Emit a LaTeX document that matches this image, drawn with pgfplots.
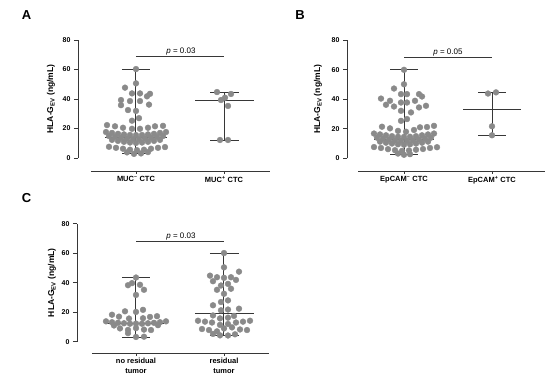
\documentclass[border=0pt]{standalone}
\usepackage{pgfplots}
\pgfplotsset{compat=1.18}
\usepackage{fontspec}
\setmainfont{Liberation Sans}
\definecolor{dotc}{RGB}{138,138,138}
\definecolor{linec}{RGB}{55,55,55}
\pgfplotsset{
  panel/.style={
    scale only axis, height=118pt, ymin=0, ymax=80,
    axis y line=left, axis x line=none,
    y axis line style={-, line width=0.9pt, color=linec},
    ytick={0,20,40,60,80}, tick align=outside, major tick length=4pt,
    every tick/.style={line width=0.9pt, color=linec},
    tick label style={font=\fontsize{7}{8}\selectfont\bfseries},
    /pgf/number format/assume math mode=true,
    clip=false,
    every axis y label/.style={at={(rel axis cs:0,0.5)}, xshift=#1, rotate=90, anchor=center},
    ylabel={\fontsize{8.5}{10}\selectfont\bfseries HLA-G\textsubscript{EV} (ng/mL)},
  },
  dots/.style={only marks, mark=*, mark size=2.9pt, mark options={draw=dotc, fill=dotc}},
  stat/.style={color=linec, line width=1pt, no marks},
}
\newcommand{\lab}{\fontsize{7.5}{10}\selectfont\bfseries}
\newcommand{\pv}{\fontsize{8}{9}\selectfont}
\begin{document}
\begin{tikzpicture}
\path[use as bounding box] (0,0) rectangle (550pt,388pt);
\node[font=\fontsize{13}{14}\selectfont\bfseries] at (26.5pt,372.5pt) {A};
\node[font=\fontsize{13}{14}\selectfont\bfseries] at (300pt,372.5pt) {B};
\node[font=\fontsize{13}{14}\selectfont\bfseries] at (26.5pt,190pt) {C};

% ---------------- Panel A
\begin{axis}[panel=-27pt, width=192pt, xmin=78, xmax=270, at={(78pt,230pt)}, anchor=south west]
\addplot[dots] coordinates {
(136,60.3)(136,50.6)(125,47.7)(132,43.8)(140,43.8)(150,43.5)(147,41.8)(121,39.3)(130,38.6)(140,38.6)(121,35.8)(149,36.2)(128,32.5)(136,31.9)(132,25.3)(139,27.0)
(107,22.3)(115,21.5)(123,20.5)(132,19.8)(140,19.8)(148,20.5)(155,21.5)(163,21.8)
(106,17.6)(112,17.0)(118,16.4)(124,16.0)(130,15.6)(136,15.5)(142,15.6)(148,16.0)(154,16.4)(160,17.0)(166,17.6)
(109,14.9)(115,14.3)(121,13.7)(127,13.2)(133,12.9)(139,12.9)(145,13.2)(151,13.7)(157,14.3)(163,14.9)
(112,12.3)(118,11.6)(124,11.0)(130,10.5)(136,10.2)(142,10.5)(148,11.0)(154,11.6)(160,12.3)
(109,7.6)(116,6.9)(123,6.3)(130,5.6)(137,5.3)(144,5.6)(151,6.3)(158,6.9)(165,7.4)
(127,3.8)(134,2.8)(141,3.1)(148,4.0)
};
\addplot[dots] coordinates {(217,44.7)(231,43.4)(221,39.3)(225,40.9)(228,35.3)(220,12.2)(228,12.2)};
\addplot[stat] coordinates {(136,2.8)(136,60.3)};
\addplot[stat] coordinates {(122,60.3)(150,60.3)};
\addplot[stat] coordinates {(122,2.8)(150,2.8)};
\addplot[stat] coordinates {(105,13.8)(167,13.8)};
\addplot[stat] coordinates {(224,12.2)(224,44.7)};
\addplot[stat] coordinates {(210,44.7)(239,44.7)};
\addplot[stat] coordinates {(210,12.2)(239,12.2)};
\addplot[stat] coordinates {(195,39.3)(254,39.3)};
\draw[linec, line width=0.9pt] (axis cs:91,-8.8) -- (axis cs:270,-8.8);
\draw[linec, line width=0.9pt] (axis cs:136,-8.8) -- ++(0pt,-3pt);
\draw[linec, line width=0.9pt] (axis cs:224,-8.8) -- ++(0pt,-3pt);
\node[below=5pt, inner sep=0pt, font=\lab] at (axis cs:136,-8.8) {MUC\textsuperscript{\textendash} CTC};
\node[below=5pt, inner sep=0pt, font=\lab] at (axis cs:224,-8.8) {MUC\textsuperscript{+} CTC};
\draw[linec, line width=0.9pt] (axis cs:136,68.7) -- (axis cs:224,68.7);
\node[above=1pt, inner sep=0pt, font=\pv] at (axis cs:181,68.7) {\textit{p} = 0.03};
\end{axis}

% ---------------- Panel B
\begin{axis}[panel=-29pt, width=198pt, xmin=347, xmax=545, at={(347pt,229.7pt)}, anchor=south west]
\addplot[dots] coordinates {
(404,60.0)(404,50.2)(394,47.3)(381,40.5)(390,39.0)(386,36.3)(394,35.1)(401,43.5)(407,43.5)(419,43.5)(422,41.9)(401,37.8)(407,37.8)(415,39.0)(419,34.5)(426,35.6)(401,32.2)(411,31.1)(401,25.4)(407,26.6)
(382,21.4)(390,20.3)(398,18.6)(406,18.0)(414,19.2)(420,21.0)(427,21.2)(434,22.0)
(374,16.8)(380,16.2)(386,15.6)(392,15.0)(398,14.6)(404,14.5)(410,14.6)(416,15.0)(422,15.6)(428,16.2)(434,16.8)
(377,14.0)(383,13.3)(389,12.7)(395,12.2)(401,11.9)(407,11.9)(413,12.2)(419,12.7)(425,13.3)(431,14.0)
(380,11.3)(386,10.6)(392,10.0)(398,9.5)(404,9.2)(410,9.5)(416,10.0)(422,10.6)(428,11.3)
(374,7.6)(381,7.0)(388,6.2)(395,5.5)(402,5.0)(409,5.3)(416,5.8)(423,6.3)(430,7.0)(437,7.5)
(398,3.2)(404,2.4)(410,2.8)
};
\addplot[dots] coordinates {(488,43.9)(496,44.7)(492,21.7)(492,15.6)};
\addplot[stat] coordinates {(404,2.4)(404,60.0)};
\addplot[stat] coordinates {(390,60.0)(418,60.0)};
\addplot[stat] coordinates {(390,2.4)(418,2.4)};
\addplot[stat] coordinates {(374,13.0)(434,13.0)};
\addplot[stat] coordinates {(492,15.6)(492,44.7)};
\addplot[stat] coordinates {(478,44.7)(506,44.7)};
\addplot[stat] coordinates {(478,15.6)(506,15.6)};
\addplot[stat] coordinates {(463,32.8)(521,32.8)};
\draw[linec, line width=0.9pt] (axis cs:358,-8.6) -- (axis cs:545,-8.6);
\draw[linec, line width=0.9pt] (axis cs:404,-8.6) -- ++(0pt,-3pt);
\draw[linec, line width=0.9pt] (axis cs:492,-8.6) -- ++(0pt,-3pt);
\node[below=5pt, inner sep=0pt, font=\lab] at (axis cs:404,-8.6) {EpCAM\textsuperscript{\textendash} CTC};
\node[below=5pt, inner sep=0pt, font=\lab] at (axis cs:492,-8.6) {EpCAM\textsuperscript{+} CTC};
\draw[linec, line width=0.9pt] (axis cs:404,68.2) -- (axis cs:492,68.2);
\node[above=1pt, inner sep=0pt, font=\pv] at (axis cs:448,68.2) {\textit{p} = 0.05};
\end{axis}

% ---------------- Panel C
\begin{axis}[panel=-25pt, width=193pt, xmin=77, xmax=270, at={(77pt,46.3pt)}, anchor=south west]
\addplot[dots] coordinates {
(136,43.5)(132,39.7)(128,38.3)(140,38.6)(144,35.2)(136,31.7)
(112,18.3)(119,17.0)(125,20.6)(129,15.7)(136,20.2)(143,21.6)(143,15.9)(150,16.8)(157,17.3)
(106,13.8)(112,13.2)(118,12.8)(124,12.5)(130,12.2)(136,12.3)(142,12.2)(148,12.5)(154,12.8)(160,13.2)(166,13.8)
(114,11.0)(158,11.2)
(120,9.0)(128,8.0)(136,9.2)(144,8.2)(151,7.9)
(128,5.8)(136,3.2)(144,3.4)
};
\addplot[dots] coordinates {
(224,60.1)(224,50.4)(239,47.5)(210,44.8)(217,43.7)(224,43.3)(231,43.7)(236,41.9)(213,41.0)(221,38.1)(228,39.2)(217,35.2)(231,35.9)(224,32.5)(213,24.7)(221,26.9)(228,28.0)(221,21.3)(228,21.8)(239,22.4)
(213,17.8)(234,17.5)
(198,14.2)(205,13.6)(212,13.0)(236,13.0)(243,13.6)(250,14.2)
(220,15.8)(228,16.3)(220,11.4)(228,12.0)
(202,8.6)(209,7.9)(217,7.0)(224,9.0)(232,9.7)(240,8.3)(247,7.9)
(213,5.3)(220,4.3)(228,4.2)(235,5.0)
};
\addplot[stat] coordinates {(136,3.0)(136,43.5)};
\addplot[stat] coordinates {(122,43.5)(150,43.5)};
\addplot[stat] coordinates {(122,3.0)(150,3.0)};
\addplot[stat] coordinates {(107,12.4)(164,12.4)};
\addplot[stat] coordinates {(224,4.2)(224,60.1)};
\addplot[stat] coordinates {(210,60.1)(239,60.1)};
\addplot[stat] coordinates {(210,4.2)(239,4.2)};
\addplot[stat] coordinates {(195,19.1)(254,19.1)};
\draw[linec, line width=0.9pt] (axis cs:92,-7.8) -- (axis cs:269.5,-7.8);
\draw[linec, line width=0.9pt] (axis cs:136,-7.8) -- ++(0pt,-3pt);
\draw[linec, line width=0.9pt] (axis cs:224,-7.8) -- ++(0pt,-3pt);
\node[below=5pt, inner sep=0pt, font=\lab, align=center] at (axis cs:136,-7.8) {no residual\\tumor};
\node[below=5pt, inner sep=0pt, font=\lab, align=center] at (axis cs:224,-7.8) {residual\\tumor};
\draw[linec, line width=0.9pt] (axis cs:136.5,67.9) -- (axis cs:224,67.9);
\node[above=1pt, inner sep=0pt, font=\pv] at (axis cs:181,67.9) {\textit{p} = 0.03};
\end{axis}
\end{tikzpicture}
\end{document}
